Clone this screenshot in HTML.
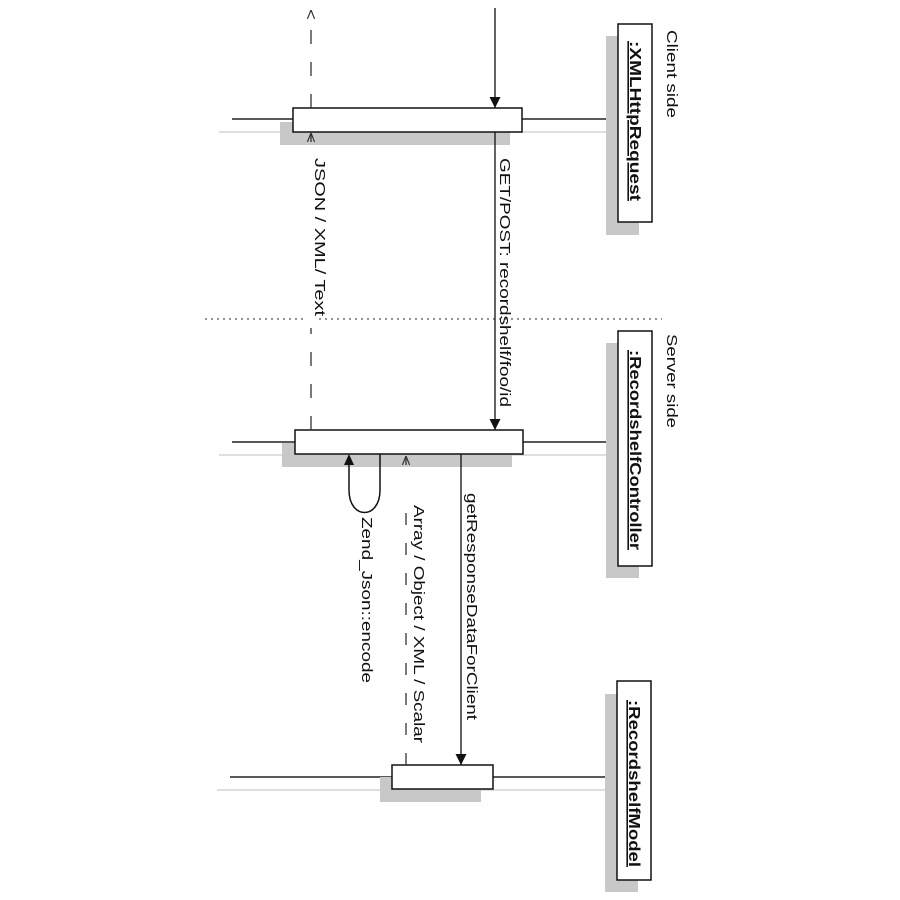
<!DOCTYPE html>
<html><head><meta charset="utf-8"><style>
html,body{margin:0;padding:0;background:#fff;}
svg{display:block;}
text{font-family:"Liberation Sans",Arial,sans-serif;font-size:15px;fill:#111;}
</style></head><body>
<svg width="900" height="900" viewBox="0 0 900 900" xmlns="http://www.w3.org/2000/svg">
<defs>
<marker id="fa" viewBox="0 0 10 10" refX="10" refY="5" markerWidth="11" markerHeight="11" markerUnits="userSpaceOnUse" orient="auto"><path d="M0,0 L10,5 L0,10 z" fill="#111"/></marker>
<marker id="oa" viewBox="0 0 10 10" refX="10" refY="5" markerWidth="9" markerHeight="9" markerUnits="userSpaceOnUse" orient="auto"><path d="M0,1 L10,5 L0,9" fill="none" stroke="#333" stroke-width="1.3"/></marker>
</defs>

<line x1="205" y1="319" x2="662" y2="319" stroke="#555" stroke-width="1.3" stroke-dasharray="2,4"/>
<text transform="translate(667,30) rotate(90)" textLength="88" lengthAdjust="spacingAndGlyphs">Client side</text>
<text transform="translate(667,334) rotate(90)" textLength="94" lengthAdjust="spacingAndGlyphs">Server side</text>

<line x1="219" y1="132" x2="606" y2="132" stroke="#ccc" stroke-width="1.3"/>
<line x1="219" y1="455" x2="606" y2="455" stroke="#ccc" stroke-width="1.3"/>
<line x1="217" y1="790" x2="605" y2="790" stroke="#ccc" stroke-width="1.3"/>

<line x1="232" y1="119" x2="618" y2="119" stroke="#222" stroke-width="1.5"/>
<line x1="232" y1="442" x2="618" y2="442" stroke="#222" stroke-width="1.5"/>
<line x1="230" y1="777" x2="617" y2="777" stroke="#222" stroke-width="1.5"/>

<rect x="606" y="36" width="33" height="199" fill="#c8c8c8"/>
<rect x="606" y="343" width="33" height="235" fill="#c8c8c8"/>
<rect x="605" y="694" width="33" height="198" fill="#c8c8c8"/>
<rect x="618" y="24" width="34" height="198" fill="#fff" stroke="#111" stroke-width="1.5"/>
<rect x="618" y="331" width="34" height="235" fill="#fff" stroke="#111" stroke-width="1.5"/>
<rect x="617" y="681" width="34" height="199" fill="#fff" stroke="#111" stroke-width="1.5"/>
<text transform="translate(630,41) rotate(90)" textLength="160" lengthAdjust="spacingAndGlyphs" style="font-weight:bold;font-size:16px;text-decoration:underline">:XMLHttpRequest</text>
<text transform="translate(630,350) rotate(90)" textLength="200" lengthAdjust="spacingAndGlyphs" style="font-weight:bold;font-size:16px;text-decoration:underline">:RecordshelfController</text>
<text transform="translate(629,700) rotate(90)" textLength="167" lengthAdjust="spacingAndGlyphs" style="font-weight:bold;font-size:16px;text-decoration:underline">:RecordshelfModel</text>

<rect x="280" y="122" width="230" height="23" fill="#c8c8c8"/>
<rect x="282" y="443" width="230" height="24" fill="#c8c8c8"/>
<rect x="380" y="777" width="101" height="25" fill="#c8c8c8"/>
<rect x="293" y="108" width="229" height="24" fill="#fff" stroke="#111" stroke-width="1.5"/>
<rect x="295" y="430" width="228" height="24" fill="#fff" stroke="#111" stroke-width="1.5"/>
<rect x="392" y="765" width="101" height="24" fill="#fff" stroke="#111" stroke-width="1.5"/>

<line x1="495" y1="8" x2="495" y2="108" stroke="#111" stroke-width="1.3" marker-end="url(#fa)"/>
<line x1="495" y1="132" x2="495" y2="430" stroke="#111" stroke-width="1.3" marker-end="url(#fa)"/>
<text transform="translate(500,158) rotate(90)" textLength="249" lengthAdjust="spacingAndGlyphs">GET/POST: recordshelf/foo/id</text>

<line x1="311" y1="108" x2="311" y2="10" stroke="#333" stroke-width="1.3" stroke-dasharray="14,18" marker-end="url(#oa)"/>
<line x1="311" y1="430" x2="311" y2="133" stroke="#333" stroke-width="1.3" stroke-dasharray="14,18" marker-end="url(#oa)"/>
<rect x="305" y="150" width="14" height="178" fill="#fff"/>
<text transform="translate(315,158) rotate(90)" textLength="158" lengthAdjust="spacingAndGlyphs">JSON / XML/ Text</text>

<path d="M380,454 L380,490 C380,520 349,520 349,490 L349,464" fill="none" stroke="#111" stroke-width="1.5"/>
<path d="M344,465 L349,454 L354,465 z" fill="#111"/>
<text transform="translate(362,517) rotate(90)" textLength="166" lengthAdjust="spacingAndGlyphs">Zend_Json::encode</text>

<line x1="461" y1="454" x2="461" y2="765" stroke="#111" stroke-width="1.3" marker-end="url(#fa)"/>
<text transform="translate(467,493) rotate(90)" textLength="227" lengthAdjust="spacingAndGlyphs">getResponseDataForClient</text>

<line x1="406" y1="765" x2="406" y2="456" stroke="#333" stroke-width="1.3" stroke-dasharray="12,18" marker-end="url(#oa)"/>
<rect x="400" y="470" width="12" height="28" fill="#fff"/>
<text transform="translate(414,505) rotate(90)" textLength="238" lengthAdjust="spacingAndGlyphs">Array / Object / XML / Scalar</text>
</svg>
</body></html>
